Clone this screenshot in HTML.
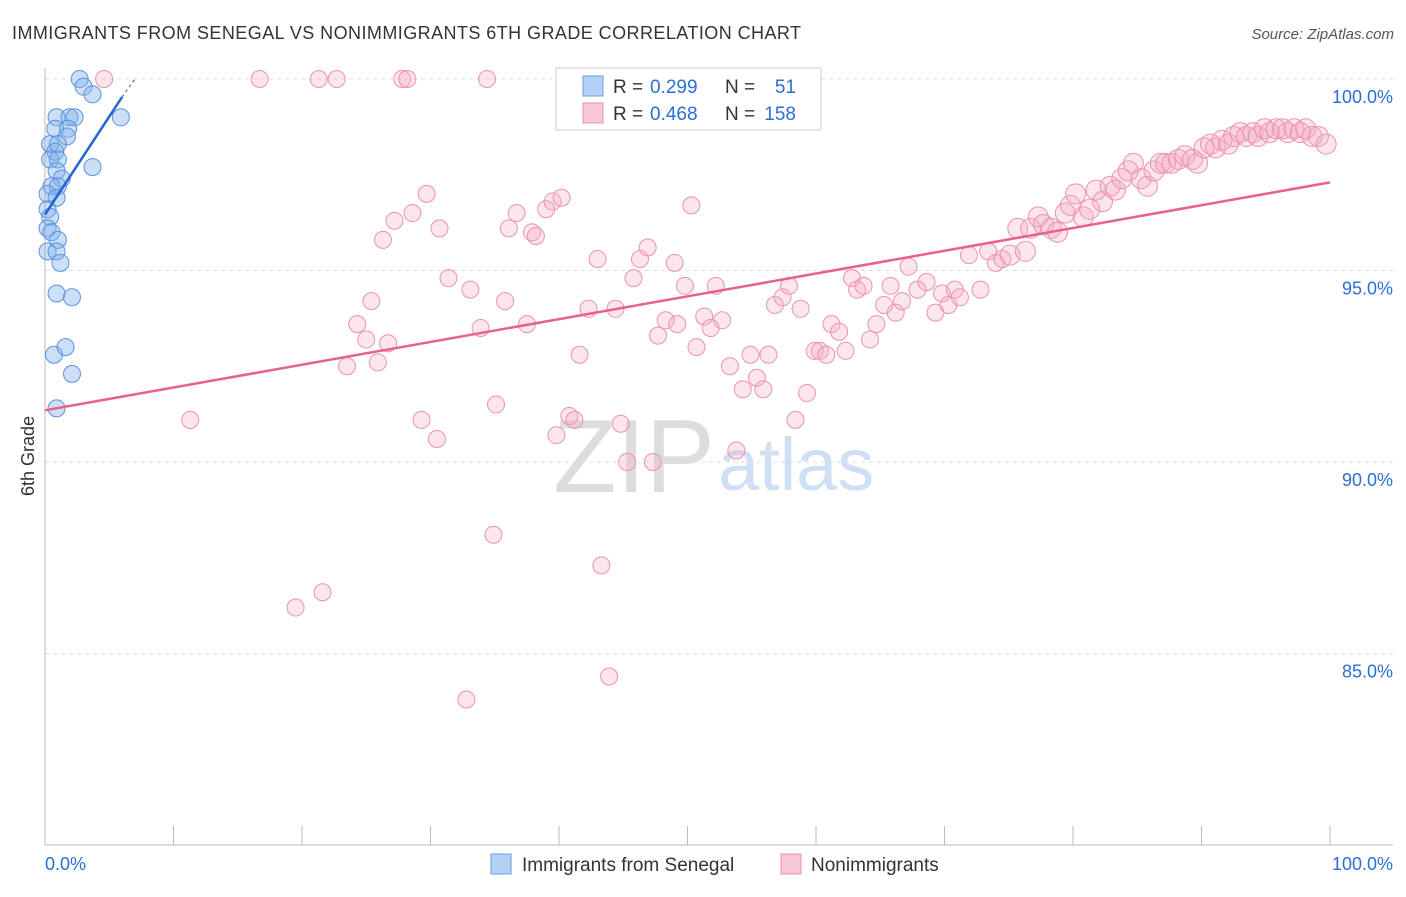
<!DOCTYPE html>
<html><head><meta charset="utf-8"><style>
body{margin:0;background:#fff;font-family:"Liberation Sans",sans-serif}
svg text{font-family:"Liberation Sans",sans-serif}
</style></head><body>
<svg id="c" width="1406" height="892">
<text x="12" y="39" font-size="18" fill="#333" textLength="789">IMMIGRANTS FROM SENEGAL VS NONIMMIGRANTS 6TH GRADE CORRELATION CHART</text>
<text x="1394" y="39" font-size="15" fill="#555" text-anchor="end" font-style="italic">Source: ZipAtlas.com</text>
<text x="0" y="0" transform="translate(34,456) rotate(-90)" font-size="18" fill="#333" text-anchor="middle">6th Grade</text>
<g><text x="634" y="492" font-size="104" fill="#ddd" text-anchor="middle" font-family="Liberation Serif">ZIP</text><text x="718" y="490" font-size="74" fill="#cfe0f4">atlas</text></g>
<g id="grid"></g><g id="pts"></g><g id="lines"></g>
<g>
<rect x="556" y="68" width="265" height="62" fill="#fff" stroke="#ccc"/>
<rect x="583" y="76" width="20" height="20" fill="#b3d1f5" stroke="#6a9fe0"/>
<rect x="583" y="103" width="20" height="20" fill="#f8c6d5" stroke="#eb90ab"/>
<text x="613" y="93" font-size="19" fill="#333">R =</text><text x="650" y="93" font-size="19" fill="#2a6fd6">0.299</text>
<text x="725" y="93" font-size="19" fill="#333">N =</text><text x="796" y="93" font-size="19" fill="#2a6fd6" text-anchor="end">51</text>
<text x="613" y="120" font-size="19" fill="#333">R =</text><text x="650" y="120" font-size="19" fill="#2a6fd6">0.468</text>
<text x="725" y="120" font-size="19" fill="#333">N =</text><text x="796" y="120" font-size="19" fill="#2a6fd6" text-anchor="end">158</text>
</g>
<g>
<rect x="491" y="854" width="20" height="20" fill="#b3d1f5" stroke="#6a9fe0"/>
<text x="522" y="871" font-size="19" fill="#333">Immigrants from Senegal</text>
<rect x="781" y="854" width="20" height="20" fill="#f8c6d5" stroke="#eb90ab"/>
<text x="811" y="871" font-size="19" fill="#333">Nonimmigrants</text>
</g>
<text x="45" y="870" font-size="18" fill="#2a6fd6">0.0%</text>
<text x="1393" y="870" font-size="18" fill="#2a6fd6" text-anchor="end">100.0%</text>
</svg>
<script>
const yTicks=[100,95,90,85];
const yTickLabels=["100.0%","95.0%","90.0%","85.0%"];
const blueX=[2.7,3.0,3.7,5.9,0.9,1.9,2.3,0.8,1.8,1.7,0.4,1.0,0.8,0.4,1.0,3.7,0.9,1.3,0.5,1.0,0.2,0.9,0.2,0.4,0.2,0.5,1.0,0.2,0.9,1.2,0.9,2.1,0.7,1.6,2.1,0.9];
const blueY=[100.0,99.8,99.6,99.0,99.0,99.0,99.0,98.7,98.7,98.5,98.3,98.3,98.1,97.9,97.9,97.7,97.6,97.4,97.2,97.2,97.0,96.9,96.6,96.4,96.1,96.0,95.8,95.5,95.5,95.2,94.4,94.3,92.8,93.0,92.3,91.4];
const pinkX=[4.6,16.7,21.3,22.7,27.8,28.2,34.4,11.3,21.6,19.5,32.8,43.9,34.9,43.3,25.4,24.3,25.0,26.7,23.5,25.9,26.3,27.2,28.6,29.7,30.7,31.4,33.1,33.9,29.3,30.5,35.1,35.8,36.1,36.7,37.5,37.9,38.2,39.0,39.5,40.2,39.8,40.8,41.2,41.6,42.3,43.0,44.4,44.8,45.3,45.8,46.3,46.9,47.3,47.7,48.3,49.2,49.0,49.8,50.3,50.7,51.3,51.8,52.2,52.7,53.3,53.8,54.3,54.9,55.4,55.9,56.3,56.8,57.4,57.9,58.4,58.8,59.3,59.9,60.3,60.8,61.2,61.8,62.3,62.8,63.2,63.7,64.2,64.7,65.3,65.8,66.2,66.7,67.2,67.9,68.6,69.3,69.8,70.3,70.8,71.2,71.9,72.8,73.4,74.0,74.5,75.1,75.7,76.3,76.7,77.3,77.7,78.3,78.8,79.4,79.8,80.2,80.8,81.3,81.8,82.3,82.9,83.3,83.8,84.3,84.7,85.3,85.8,86.3,86.8,87.2,87.7,88.2,88.7,89.3,89.7,90.2,90.7,91.1,91.6,92.1,92.5,93.0,93.5,94.0,94.4,94.9,95.3,95.8,96.3,96.7,97.2,97.7,98.1,98.6,99.1,99.7];
const pinkY=[100,100,100,100,100,100,100,91.1,86.6,86.2,83.8,84.4,88.1,87.3,94.2,93.6,93.2,93.1,92.5,92.6,95.8,96.3,96.5,97.0,96.1,94.8,94.5,93.5,91.1,90.6,91.5,94.2,96.1,96.5,93.6,96.0,95.9,96.6,96.8,96.9,90.7,91.2,91.1,92.8,94.0,95.3,94.0,91.0,90.0,94.8,95.3,95.6,90.0,93.3,93.7,93.6,95.2,94.6,96.7,93.0,93.8,93.5,94.6,93.7,92.5,90.3,91.9,92.8,92.2,91.9,92.8,94.1,94.3,94.6,91.1,94.0,91.8,92.9,92.9,92.8,93.6,93.4,92.9,94.8,94.5,94.6,93.2,93.6,94.1,94.6,93.9,94.2,95.1,94.5,94.7,93.9,94.4,94.1,94.5,94.3,95.4,94.5,95.5,95.2,95.3,95.4,96.1,95.5,96.1,96.4,96.2,96.1,96.0,96.5,96.7,97.0,96.4,96.6,97.1,96.8,97.2,97.1,97.4,97.6,97.8,97.4,97.2,97.6,97.8,97.8,97.8,97.9,98.0,97.9,97.8,98.2,98.3,98.2,98.4,98.3,98.5,98.6,98.5,98.6,98.5,98.7,98.6,98.7,98.7,98.6,98.7,98.6,98.7,98.5,98.5,98.3];
const pinkTrend=[91.35,97.3];
const blueTrend=[96.46,99.53,100.0];
const blueTrendX=[0,6.0,7.0];
const NS="http://www.w3.org/2000/svg";
const X=v=>45+v*12.85, Y=v=>79+(100-v)*38.3;
function mk(t,a,p){const e=document.createElementNS(NS,t);for(const k in a)e.setAttribute(k,a[k]);p.appendChild(e);return e;}
const g=document.getElementById('grid');
yTicks.forEach((t,i)=>{
 const l=mk('line',{x1:45,x2:1393,y1:Y(t),y2:Y(t),stroke:'#ddd','stroke-dasharray':'4,4'},g);
 
 
 const tx=mk('text',{x:1393,y:Y(t)+24,'font-size':18,fill:'#2a6fd6','text-anchor':'end'},g);
 tx.textContent=yTickLabels[i];
 
 
});
mk('line',{x1:45,x2:45,y1:68,y2:845,stroke:'#bbb'},g);
mk('line',{x1:45,x2:1393,y1:845,y2:845,stroke:'#bbb'},g);
for(let i=1;i<=10;i++){const l=mk('line',{x1:X(i*10),x2:X(i*10),y1:826,y2:845,stroke:'#bbb'},g);
 
 }
const p=document.getElementById('pts');
pinkX.forEach((x,i)=>{const c=mk('circle',{cx:X(x),cy:Y(pinkY[i]),r:x>75?10:8.5,fill:'rgba(245,170,195,0.3)',stroke:'#eb93ad','stroke-width':1},p);
 
 });
blueX.forEach((x,i)=>{const c=mk('circle',{cx:X(x),cy:Y(blueY[i]),r:8.5,fill:'rgba(130,175,235,0.4)',stroke:'#5a93e0','stroke-width':1},p);
 
 });
const L=document.getElementById('lines');
const pl=mk('line',{x1:X(0),y1:Y(pinkTrend[0]),x2:X(100),y2:Y(pinkTrend[1]),stroke:'#e8608d','stroke-width':2.5},L);


const bl=mk('line',{x1:X(blueTrendX[0]),y1:Y(blueTrend[0]),x2:X(blueTrendX[1]),y2:Y(blueTrend[1]),stroke:'#1f66d1','stroke-width':2.5},L);


const bd=mk('line',{x1:X(blueTrendX[1]),y1:Y(blueTrend[1]),x2:X(blueTrendX[2]),y2:Y(blueTrend[2]),stroke:'#1f66d1','stroke-width':1,'stroke-dasharray':'3,3'},L);


</script>
</body></html>
